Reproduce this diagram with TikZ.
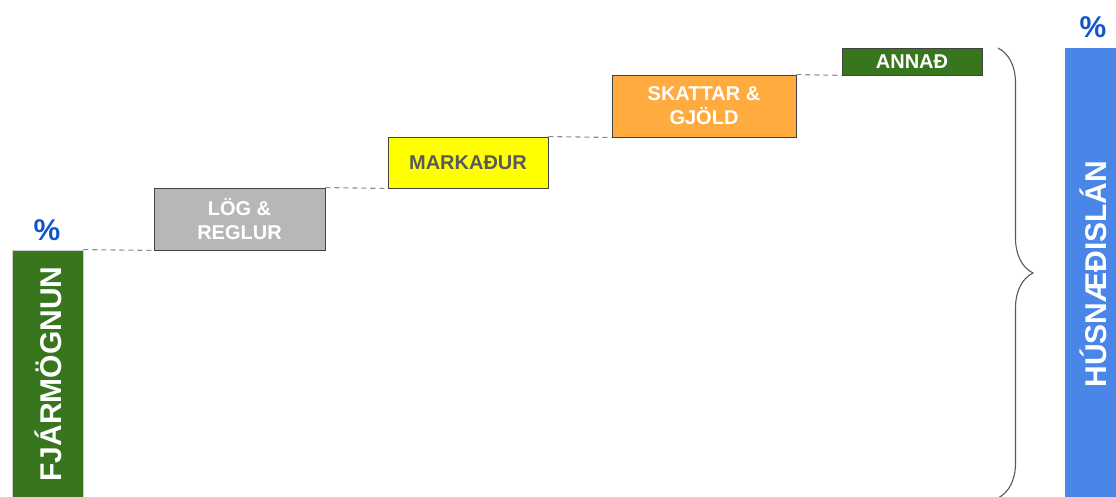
\documentclass[tikz,border=0pt]{standalone}
\usepackage{fontspec}
\setmainfont{Liberation Sans}
\usetikzlibrary{decorations.pathreplacing}

\definecolor{fingreen}{HTML}{38761D}
\definecolor{lawgray}{HTML}{B7B7B7}
\definecolor{mktyellow}{HTML}{FFFF00}
\definecolor{taxorange}{HTML}{FFAB40}
\definecolor{loanblue}{HTML}{4A86E8}
\definecolor{pctblue}{HTML}{1155CC}
\definecolor{txtgray}{HTML}{595959}
\definecolor{edgegray}{HTML}{434343}

\tikzset{
  stepbox/.style={draw=edgegray, line width=0.9pt, inner sep=0pt, align=center,
    text=white, font=\bfseries\fontsize{20}{24}\selectfont},
  bigbar/.style={draw=lawgray!70, line width=0.8pt, inner sep=0pt,
    text=white, font=\bfseries\fontsize{30}{36}\selectfont},
  pct/.style={text=pctblue, font=\bfseries\fontsize{30}{36}\selectfont},
  dashline/.style={draw=gray!90, line width=1.1pt, dash pattern=on 5pt off 4pt},
}

\begin{document}
\begin{tikzpicture}[x=1pt,y=1pt]
\useasboundingbox (0,0) rectangle (1116,496);

% the two bars
\node[bigbar, fill=fingreen, minimum width=71pt, minimum height=250pt] (fin) at (47.5,121) {};
\node[rotate=90, text=white, font=\bfseries\fontsize{30}{36}\selectfont] (finlabel) at (48,122) {FJÁRMÖGNUN};
\node[bigbar, fill=loanblue, draw=none, minimum width=57pt, minimum height=452pt] (lan) at (1093.5,222) {};
\node[rotate=90, text=white, font=\bfseries\fontsize{30}{36}\selectfont] (lanlabel) at (1093,222) {HÚSNÆÐISLÁN};

\node[pct] (pctfin) at (47,266) {\%};
\node[pct] (pctlan) at (1093,469) {\%};

% the steps
\node[stepbox, fill=lawgray, minimum width=171pt, minimum height=62pt] (log) at (239.5,277) {LÖG \&\\REGLUR};
\node[stepbox, fill=mktyellow, text=txtgray, minimum width=160pt, minimum height=51pt] (markadur) at (468,333.5) {MARKAÐUR};
\node[stepbox, fill=taxorange, minimum width=184pt, minimum height=62pt] (skattar) at (704,390) {SKATTAR \&\\GJÖLD};
\node[stepbox, fill=fingreen, minimum width=140pt, minimum height=27pt] (annad) at (912,434.5) {ANNAÐ};

\draw[dashline] (fin.north east) -- (log.south west);
\draw[dashline] (log.north east) -- (markadur.south west);
\draw[dashline] (markadur.north east) -- (skattar.south west);
\draw[dashline] (skattar.north east) -- (annad.south west);

% brace
\coordinate (bracetop) at (998,448);
\coordinate (bracebot) at (998,-2);
\draw[txtgray, line width=1.1pt, decorate, decoration={brace, amplitude=35pt}] (bracetop) -- (bracebot);
\end{tikzpicture}
\end{document}
